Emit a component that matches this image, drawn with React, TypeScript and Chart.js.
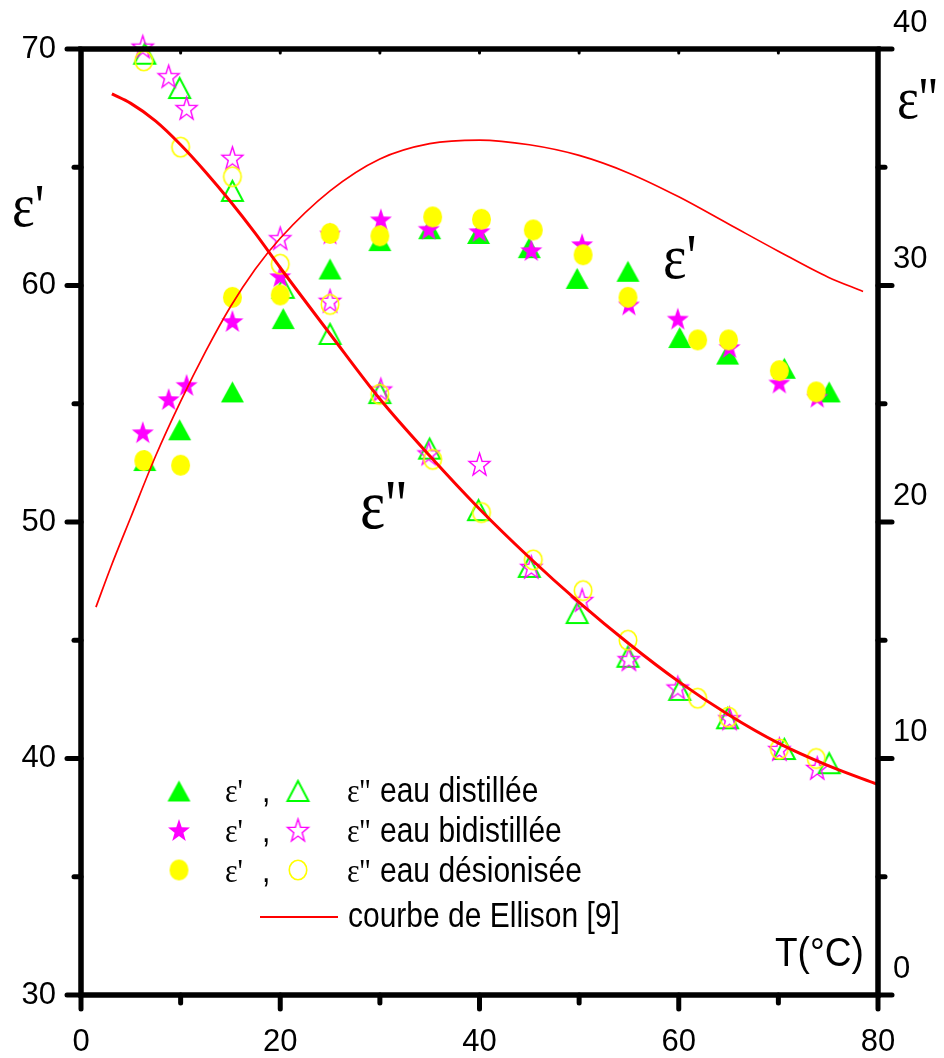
import { useEffect, useRef } from 'react';
import { Chart, registerables } from 'chart.js';

Chart.register(...registerables);

// ---- Data ----
const tDistillee = [6.4, 9.9, 15.2, 20.3, 25, 30, 35, 39.9, 45, 49.8, 54.9, 60.1, 64.9, 70.6, 75.1];
const epsPrimeDistillee = [52.6, 53.9, 55.5, 58.6, 60.7, 61.9, 62.4, 62.2, 61.6, 60.3, 60.6, 57.8, 57.1, 56.5, 55.5];
const epsSecDistillee = [39.8, 38.35, 34.0, 29.9, 27.95, 25.45, 23.1, 20.5, 18.1, 16.15, 14.3, 12.9, 11.7, 10.4, 9.8];

const tBidistillee = [6.2, 8.8, 10.6, 15.2, 20, 25, 30.1, 34.9, 40, 45.2, 50.3, 55, 59.9, 65.1, 70.1, 73.9];
const epsPrimeBidistillee = [53.8, 55.2, 55.8, 58.5, 60.4, 62.2, 62.8, 62.4, 62.3, 61.5, 61.75, 59.2, 58.6, 57.4, 55.9, 55.3];
const epsSecBidistillee = [40.1, 38.85, 37.5, 35.4, 32.0, 29.35, 25.6, 22.9, 22.45, 18.1, 16.7, 14.2, 13.0, 11.7, 10.4, 9.6];

const tDesionisee = [6.3, 10, 15.2, 20, 25, 30, 35.3, 40.2, 45.4, 50.4, 54.9, 61.9, 65, 70.1, 73.8];
const epsPrimeDesionisee = [52.6, 52.4, 59.5, 59.6, 62.2, 62.1, 62.9, 62.8, 62.35, 61.3, 59.5, 57.7, 57.7, 56.4, 55.5];
const epsSecDesionisee = [39.5, 35.85, 34.6, 30.9, 29.2, 25.4, 22.65, 20.4, 18.4, 17.1, 15.0, 12.55, 11.75, 10.4, 10.0];

const ellisonTPrime = [1.5, 3, 5, 7.5, 10, 12.5, 15, 17.5, 20, 25, 30, 35, 40, 45, 50, 55, 60, 65, 70, 75, 78.5];
const ellisonEpsPrime = [46.4, 48.1, 50.2, 52.8, 55.1, 57.2, 59.1, 60.7, 62.0, 64.0, 65.35, 66.0, 66.15, 65.95, 65.5, 64.75, 63.75, 62.6, 61.45, 60.35, 59.75];
const ellisonTSec = [3.1, 5, 7.5, 10, 12.5, 15, 17.5, 20, 25, 30, 35, 40, 45, 50, 55, 60, 65, 70, 75, 80];
const ellisonEpsSec = [38.1, 37.7, 36.95, 35.95, 34.8, 33.55, 32.2, 30.75, 27.95, 25.2, 22.8, 20.55, 18.5, 16.6, 14.85, 13.25, 11.85, 10.65, 9.7, 8.9];

const legendLabels = ['eau distillée', 'eau bidistillée', 'eau désionisée'];
const ellisonLabel = 'courbe de Ellison [9]';
const xTitle = 'T(°C)';

const GREEN = '#00ff00';
const MAGENTA = '#ff00ff';
const YELLOW = '#ffff00';
const RED = '#ff0000';
const SANS = '"Liberation Sans", Arial, sans-serif';
const SERIF = '"Liberation Serif", "DejaVu Serif", serif';

type Shape = 'tri' | 'circle' | 'star';

function makeMarker(shape: Shape, color: string, filled: boolean, w: number, h: number, lw: number) {
  const pad = Math.ceil(lw) + 1;
  const c = document.createElement('canvas');
  c.width = Math.ceil(w + 2 * pad);
  c.height = Math.ceil(h + 2 * pad);
  const ctx = c.getContext('2d')!;
  const cx = c.width / 2;
  const cy = c.height / 2;
  ctx.beginPath();
  if (shape === 'tri') {
    ctx.moveTo(cx, cy - h / 2);
    ctx.lineTo(cx + w / 2, cy + h / 2);
    ctx.lineTo(cx - w / 2, cy + h / 2);
    ctx.closePath();
  } else if (shape === 'circle') {
    ctx.ellipse(cx, cy, w / 2, h / 2, 0, 0, Math.PI * 2);
  } else {
    const R = w / (2 * Math.sin((2 * Math.PI) / 5));
    const sy = h / (R * (1 + Math.cos(Math.PI / 5)));
    const r = R * 0.4;
    const scy = cy + ((R - R * Math.cos(Math.PI / 5)) * sy) / 2;
    for (let k = 0; k < 10; k++) {
      const ang = -Math.PI / 2 + (k * Math.PI) / 5;
      const rad = k % 2 ? r : R;
      const px = cx + rad * Math.cos(ang);
      const py = scy + rad * Math.sin(ang) * sy;
      if (k === 0) ctx.moveTo(px, py);
      else ctx.lineTo(px, py);
    }
    ctx.closePath();
  }
  if (filled) {
    ctx.fillStyle = color;
    ctx.fill();
  } else {
    ctx.strokeStyle = color;
    ctx.lineWidth = lw;
    ctx.lineJoin = 'miter';
    ctx.stroke();
  }
  return c;
}

function txt(ctx: CanvasRenderingContext2D, s: string, x: number, y: number, font: string, sy = 1.15) {
  ctx.save();
  ctx.translate(x, y);
  ctx.scale(1, sy);
  ctx.font = font;
  ctx.fillStyle = '#000';
  ctx.textAlign = 'left';
  ctx.textBaseline = 'alphabetic';
  ctx.fillText(s, 0, 0);
  ctx.restore();
}

const pts = (xs: number[], ys: number[]) => xs.map((x, i) => ({ x, y: ys[i] }));

export default function App() {
  const ref = useRef<HTMLCanvasElement>(null);

  useEffect(() => {
    const canvas = ref.current!;
    const m = {
      triF: makeMarker('tri', GREEN, true, 23, 21, 0),
      triO: makeMarker('tri', GREEN, false, 21, 20, 2),
      starF: makeMarker('star', MAGENTA, true, 22, 22, 0),
      starO: makeMarker('star', MAGENTA, false, 21, 22, 1.4),
      circF: makeMarker('circle', YELLOW, true, 19, 21, 0),
      circO: makeMarker('circle', YELLOW, false, 17.5, 19.5, 1.6),
    };

    const scatter = (label: string, data: any[], axis: string, style: HTMLCanvasElement) => ({
      label,
      data,
      yAxisID: axis,
      pointStyle: style,
      pointRadius: 10,
      pointHoverRadius: 10,
      showLine: false,
      clip: false as any,
    });

    const decor = {
      id: 'decor',
      afterDatasetsDraw(chart: any) {
        const { ctx, chartArea: a, scales } = chart;
        const sx = scales.x;
        const sy = scales.y;
        const sy2 = scales.y2;
        ctx.save();
        ctx.strokeStyle = '#000';
        ctx.lineWidth = 5.5;
        ctx.lineJoin = 'miter';
        ctx.strokeRect(a.left, a.top, a.right - a.left, a.bottom - a.top);
        ctx.lineCap = 'round';
        const seg = (x1: number, y1: number, x2: number, y2: number, w = 5) => {
          ctx.lineWidth = w;
          ctx.beginPath();
          ctx.moveTo(x1, y1);
          ctx.lineTo(x2, y2);
          ctx.stroke();
        };
        for (let v = 0; v <= 80; v += 10) {
          const px = sx.getPixelForValue(v);
          seg(px, a.bottom, px, a.bottom + (v % 20 === 0 ? 14 : 8));
          if (v > 0 && v < 80) seg(px, a.top, px, a.top + 4, 3);
        }
        for (let v = 30; v <= 70; v += 5) {
          const py = sy.getPixelForValue(v);
          seg(a.left, py, a.left - (v % 10 === 0 ? 14 : 7), py);
        }
        for (let v = 0; v <= 40; v += 5) {
          const py = sy2.getPixelForValue(v);
          seg(a.right, py, a.right + (v % 10 === 0 ? 14 : 7), py);
        }

        // axis titles and annotations
        txt(ctx, "ε'", 12, 226, `54px ${SERIF}`);
        txt(ctx, "ε''", 897, 118, `52px ${SERIF}`);
        txt(ctx, "ε'", 663, 278, `56px ${SERIF}`);
        txt(ctx, "ε''", 360, 528, `60px ${SERIF}`);
        txt(ctx, xTitle, 775, 966, `37px ${SANS}`, 1.12);

        // legend
        const rows = [
          { f: m.triF, o: m.triO, my: 791, by: 802 },
          { f: m.starF, o: m.starO, my: 830, by: 842 },
          { f: m.circF, o: m.circO, my: 870, by: 882 },
        ];
        rows.forEach((r, i) => {
          ctx.drawImage(r.f, 179 - r.f.width / 2, r.my - r.f.height / 2);
          ctx.drawImage(r.o, 298 - r.o.width / 2, r.my - r.o.height / 2);
          txt(ctx, "ε'", 225, r.by, `30px ${SERIF}`);
          txt(ctx, ',', 262, r.by, `30px ${SANS}`);
          txt(ctx, "ε''", 347, r.by, `30px ${SERIF}`);
          txt(ctx, legendLabels[i], 380, r.by, `30px ${SANS}`);
        });
        ctx.strokeStyle = RED;
        ctx.lineCap = 'butt';
        seg(260, 917, 338, 917, 2);
        txt(ctx, ellisonLabel, 348, 927, `30px ${SANS}`);
        ctx.restore();
      },
    };

    const tickFont = { family: SANS, size: 31 };

    const chart = new Chart(canvas, {
      type: 'scatter',
      data: {
        datasets: [
          {
            label: 'Ellison ε\'\'',
            data: pts(ellisonTSec, ellisonEpsSec),
            yAxisID: 'y2',
            showLine: true,
            borderColor: RED,
            backgroundColor: RED,
            borderWidth: 3,
            pointRadius: 0,
            cubicInterpolationMode: 'monotone',
          } as any,
          {
            label: 'Ellison ε\'',
            data: pts(ellisonTPrime, ellisonEpsPrime),
            yAxisID: 'y',
            showLine: true,
            borderColor: RED,
            backgroundColor: RED,
            borderWidth: 1.7,
            pointRadius: 0,
            cubicInterpolationMode: 'monotone',
          } as any,
          scatter("ε' eau désionisée", pts(tDesionisee, epsPrimeDesionisee), 'y', m.circF),
          scatter("ε'' eau désionisée", pts(tDesionisee, epsSecDesionisee), 'y2', m.circO),
          scatter("ε' eau bidistillée", pts(tBidistillee, epsPrimeBidistillee), 'y', m.starF),
          scatter("ε'' eau bidistillée", pts(tBidistillee, epsSecBidistillee), 'y2', m.starO),
          scatter("ε' eau distillée", pts(tDistillee, epsPrimeDistillee), 'y', m.triF),
          scatter("ε'' eau distillée", pts(tDistillee, epsSecDistillee), 'y2', m.triO),
        ],
      },
      options: {
        responsive: false,
        animation: false,
        devicePixelRatio: 1,
        layout: { padding: { top: 49, left: 0, right: 0, bottom: 0 } },
        plugins: { legend: { display: false }, tooltip: { enabled: false } },
        scales: {
          x: {
            type: 'linear',
            min: 0,
            max: 80,
            grid: { display: false, drawTicks: false },
            border: { display: false },
            ticks: { stepSize: 20, font: tickFont, color: '#000', padding: 29, maxRotation: 0, autoSkip: false },
            afterFit: (s: any) => { s.height = 63; },
          },
          y: {
            type: 'linear',
            position: 'left',
            min: 30,
            max: 70,
            grid: { display: false, drawTicks: false },
            border: { display: false },
            ticks: { stepSize: 10, font: tickFont, color: '#000', padding: 25 },
            afterFit: (s: any) => { s.width = 81; },
          },
          y2: {
            type: 'linear',
            position: 'right',
            min: 0,
            max: 40,
            grid: { display: false, drawTicks: false },
            border: { display: false },
            ticks: { stepSize: 10, font: tickFont, color: '#000', padding: 15, labelOffset: -26 },
            afterFit: (s: any) => { s.width = 66; },
          },
        },
      } as any,
      plugins: [decor],
    });

    return () => chart.destroy();
  }, []);

  return (
    <div style={{ position: 'absolute', left: 0, top: 0, width: 944, height: 1058, background: '#fff' }}>
      <canvas ref={ref} width={944} height={1058} style={{ display: 'block' }} />
    </div>
  );
}
